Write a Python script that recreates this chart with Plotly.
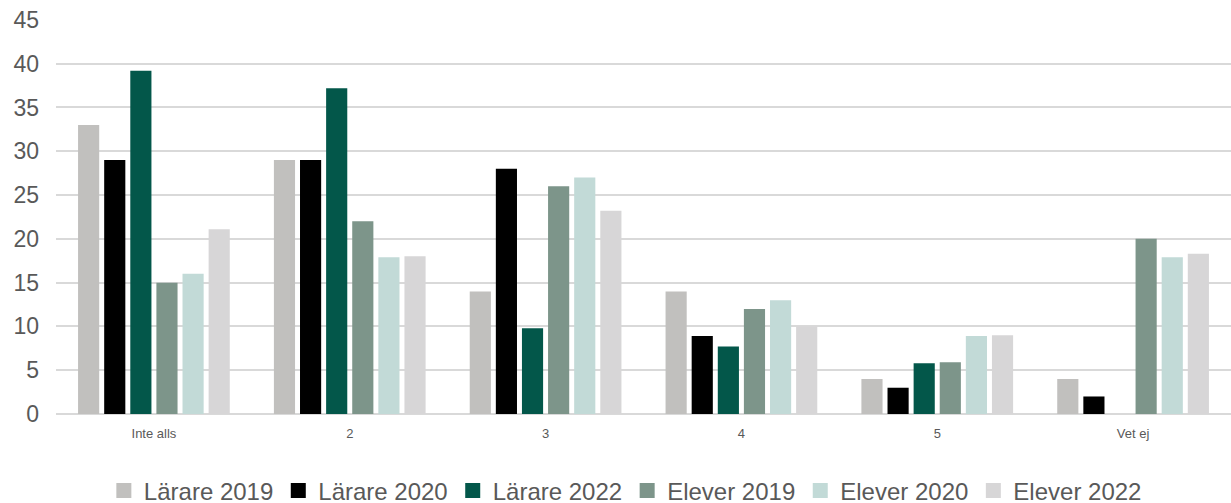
import plotly.graph_objects as go

categories = ["Inte alls", "2", "3", "4", "5", "Vet ej"]
series_names = ["Lärare 2019", "Lärare 2020", "Lärare 2022", "Elever 2019", "Elever 2020", "Elever 2022"]
larare_2019 = [33, 29, 14, 14, 4, 4]
larare_2020 = [29, 29, 28, 8.9, 3, 2]
larare_2022 = [39.2, 37.2, 9.8, 7.7, 5.8, 0]
elever_2019 = [15, 22, 26, 12, 5.9, 20]
elever_2020 = [16, 17.9, 27, 13, 8.9, 17.9]
elever_2022 = [21.1, 18, 23.2, 10, 9, 18.3]
y_ticks = [0, 5, 10, 15, 20, 25, 30, 35, 40, 45]

colors = ["#C1C0BE", "#000000", "#03574A", "#7D958A", "#C2DAD7", "#D7D6D7"]
values = [larare_2019, larare_2020, larare_2022, elever_2019, elever_2020, elever_2022]

fig = go.Figure()
for name, vals, col in zip(series_names, values, colors):
    fig.add_trace(go.Bar(x=categories, y=vals, name=name, showlegend=False,
                         marker=dict(color=col, line=dict(width=0))))
# legend entries with square swatches
for name, col in zip(series_names, colors):
    fig.add_trace(go.Scatter(x=[None], y=[None], mode="markers", name=name,
                             marker=dict(symbol="square", size=15, color=col)))

fig.update_layout(
    width=1231, height=503,
    margin=dict(l=56, r=0, t=19, b=89),
    paper_bgcolor="white", plot_bgcolor="white",
    barmode="group", bargap=0.2, bargroupgap=0.19,
    font=dict(family="Arial, Liberation Sans, sans-serif", color="#595959"),
    legend=dict(orientation="h", x=0.508, xanchor="center", xref="container",
                y=0.024, yanchor="middle", yref="container",
                font=dict(size=24, color="#595959"), itemwidth=30),
    showlegend=True,
)
fig.update_yaxes(range=[0, 45.1], tickvals=y_ticks, showgrid=True, gridcolor="#D9D9D9", gridwidth=1.5,
                 zeroline=True, zerolinecolor="#D9D9D9", zerolinewidth=1.5,
                 tickfont=dict(size=23, color="#595959"), ticks="", showline=False,
                 automargin=False, ticklabelstandoff=16)
fig.update_xaxes(tickfont=dict(size=13, color="#595959"), ticks="", showline=False,
                 automargin=False, ticklabelstandoff=10)

fig.write_html("out.html", config={"displayModeBar": False},
               post_script="document.body.style.margin='0';document.body.style.padding='0';")
